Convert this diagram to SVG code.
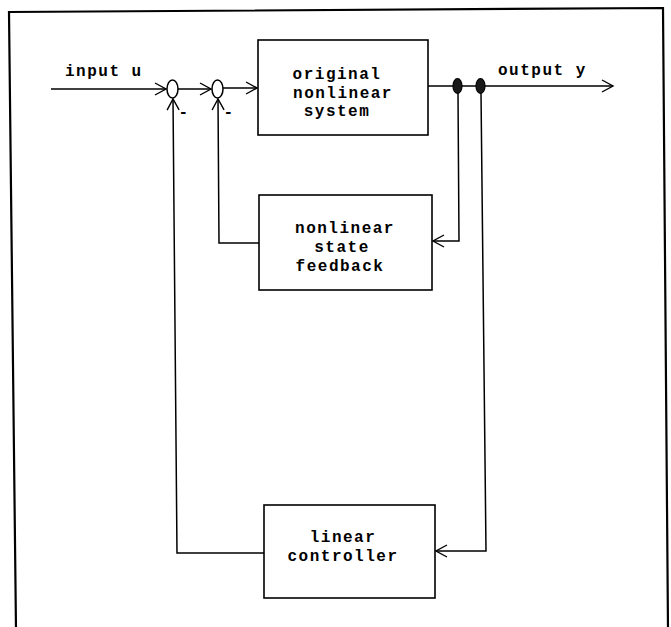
<svg xmlns="http://www.w3.org/2000/svg" width="671" height="627" viewBox="0 0 671 627">
<defs>
<marker id="arr" markerWidth="14" markerHeight="14" refX="12" refY="7" orient="auto" markerUnits="userSpaceOnUse">
<path d="M1,1 L12,7 L1,13" fill="none" stroke="#000" stroke-width="1.4"/>
</marker>
</defs>
<style>
.ln{fill:none;stroke:#000;stroke-width:1.5}
.box{fill:#fff;stroke:#000;stroke-width:1.6}
.t{font-family:"Liberation Mono","Courier New",monospace;font-weight:bold;font-size:16px;letter-spacing:1.5px;fill:#000}
.m{text-anchor:middle}
.sum{fill:#fff;stroke:#000;stroke-width:1.5}
.tap{fill:#1a1a1a;stroke:#000;stroke-width:1.2}
</style>
<rect width="671" height="627" fill="#fff"/>
<path d="M16,630 L9,12 L663,8 L668,630" fill="none" stroke="#000" stroke-width="2.2"/>
<g id="connectors">
<line class="ln" x1="51" y1="89" x2="166" y2="89" marker-end="url(#arr)"/>
<line class="ln" x1="178" y1="89" x2="211" y2="89" marker-end="url(#arr)"/>
<line class="ln" x1="223" y1="88" x2="257" y2="88" marker-end="url(#arr)"/>
<line class="ln" x1="428" y1="86" x2="453" y2="86"/>
<line class="ln" x1="462" y1="86" x2="476" y2="86"/>
<line class="ln" x1="485" y1="86" x2="613" y2="86" marker-end="url(#arr)"/>
<polyline class="ln" points="458,93 459,241 433,241" marker-end="url(#arr)"/>
<polyline class="ln" points="481,93 486,551 436,551" marker-end="url(#arr)"/>
<polyline class="ln" points="259,243 219,243 218,99" marker-end="url(#arr)"/>
<polyline class="ln" points="264,553 177,553 173,99" marker-end="url(#arr)"/>
</g>
<g id="sum1">
<ellipse class="sum" cx="172.5" cy="89" rx="5.5" ry="9"/>
<text class="t m" x="184" y="117">-</text>
</g>
<g id="sum2">
<ellipse class="sum" cx="217.5" cy="89" rx="5.5" ry="9"/>
<text class="t m" x="229" y="117">-</text>
</g>
<g id="tap1"><ellipse class="tap" cx="457.5" cy="86" rx="4.5" ry="7.5"/></g>
<g id="tap2"><ellipse class="tap" cx="480.5" cy="86" rx="4.5" ry="7.5"/></g>
<g id="input-label"><text class="t" x="65" y="76">input u</text></g>
<g id="output-label"><text class="t" x="498" y="75">output y</text></g>
<g id="original-system">
<rect class="box" x="258" y="40" width="170" height="95"/>
<text class="t m" x="337" y="79">original</text>
<text class="t m" x="343" y="97.5">nonlinear</text>
<text class="t m" x="337" y="116">system</text>
</g>
<g id="state-feedback">
<rect class="box" x="259" y="195" width="173" height="95"/>
<text class="t m" x="345" y="233">nonlinear</text>
<text class="t m" x="342" y="252">state</text>
<text class="t m" x="340" y="271">feedback</text>
</g>
<g id="linear-controller">
<rect class="box" x="264" y="505" width="171" height="93"/>
<text class="t m" x="343" y="542">linear</text>
<text class="t m" x="343" y="561">controller</text>
</g>
</svg>
